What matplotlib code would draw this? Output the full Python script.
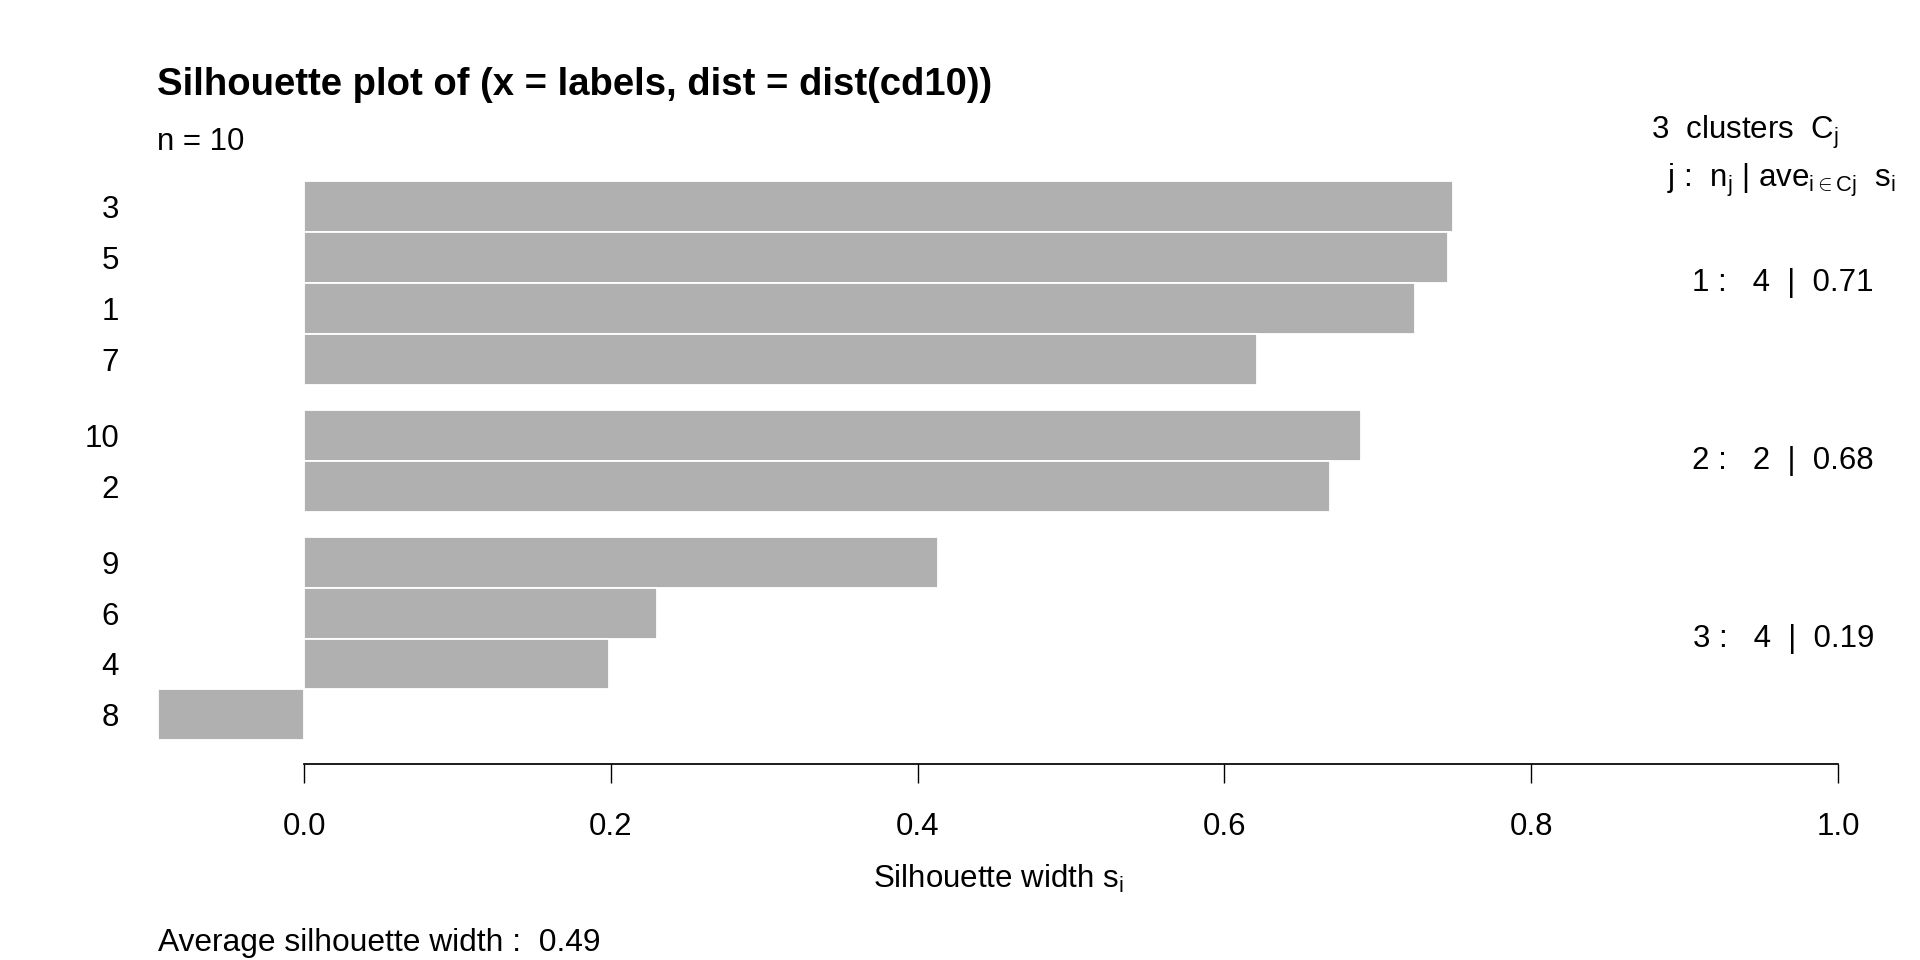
import matplotlib
matplotlib.use("Agg")
import matplotlib.pyplot as plt
from matplotlib.transforms import blended_transform_factory

plt.rcParams['font.family'] = ['Liberation Sans', 'DejaVu Sans']
plt.rcParams['mathtext.fontset'] = 'custom'
plt.rcParams['mathtext.rm'] = 'Liberation Sans'
plt.rcParams['mathtext.it'] = 'Liberation Sans:italic'
plt.rcParams['mathtext.bf'] = 'Liberation Sans:bold'

# ---- data ----
labels = ['3', '5', '1', '7', '10', '2', '9', '6', '4', '8']
clusters = [1, 1, 1, 1, 2, 2, 3, 3, 3, 3]
widths = [0.749, 0.746, 0.724, 0.621, 0.689, 0.669, 0.413, 0.230, 0.199, -0.095]
xticks = [0.0, 0.2, 0.4, 0.6, 0.8, 1.0]
xtick_labels = ['0.0', '0.2', '0.4', '0.6', '0.8', '1.0']

W, H = 1920, 960
fig = plt.figure(figsize=(W / 100, H / 100), dpi=100)

# pixel layout
X0_PX, X1_PX = 304.0, 1838.0
ppu = X1_PX - X0_PX
AX_LEFT_PX = 130.0
XMAX = 1.02
xmin = (AX_LEFT_PX - X0_PX) / ppu
ax_right_px = X0_PX + XMAX * ppu
AX_BOTTOM_PX = 763.5
AX_TOP_PX = 158.0
ax = fig.add_axes([AX_LEFT_PX / W, 1 - AX_BOTTOM_PX / H,
                   (ax_right_px - AX_LEFT_PX) / W, (AX_BOTTOM_PX - AX_TOP_PX) / H])

# bar positions (bottom to top), gap 0.5 between clusters
centers = [0.0] * len(labels)
pos = 0.0
prev = None
for i in reversed(range(len(labels))):
    if prev is not None and clusters[i] != prev:
        pos += 0.5
    centers[i] = pos + 0.5
    pos += 1.0
    prev = clusters[i]
total = pos

ax.barh(centers, widths, height=1.0, color='#B0B0B0', edgecolor='white', linewidth=1.3)
ax.set_xlim(xmin, XMAX)
pad_y = 0.46
ax.set_ylim(-pad_y, total + pad_y)

for s in ['top', 'right', 'left']:
    ax.spines[s].set_visible(False)
ax.spines['bottom'].set_bounds(0, 1)
ax.spines['bottom'].set_linewidth(1.25)
ax.set_xticks(xticks, xtick_labels)
ax.tick_params(axis='x', length=13.7, width=1.0, pad=21.5, labelsize=22.5)
ax.set_yticks(centers, labels)
ax.tick_params(axis='y', length=0, pad=8, labelsize=22.5)

# titles / annotations
def ft(xpx, ypx, s, **kw):
    fig.text(xpx / W, 1 - ypx / H, s, **kw)

ft(157, 85, 'Silhouette plot of (x = labels, dist = dist(cd10))',
   fontsize=27.5, fontweight='bold', ha='left', va='center')
ft(157, 142, 'n = 10', fontsize=22.5, ha='left', va='center')
ft(1839, 132, r'3  clusters  C$_\mathrm{j}$', fontsize=22.5, ha='right', va='center')
ft(1896, 180, r'j :  n$_\mathrm{j}$ | ave$_{\mathrm{i\in Cj}}$  s$_\mathrm{i}$',
   fontsize=22.5, ha='right', va='center')

tr = blended_transform_factory(fig.transFigure, ax.transData)
uniq = []
for c in clusters:
    if c not in uniq:
        uniq.append(c)
for c in uniq:
    idx = [i for i, cc in enumerate(clusters) if cc == c]
    yc = sum(centers[i] for i in idx) / len(idx)
    avg = sum(widths[i] for i in idx) / len(idx)
    fig.text(1874 / W, yc, f'{c} :   {len(idx)}  |  {avg:.2f}', transform=tr,
             fontsize=22.5, ha='right', va='center')

ft(998, 879, r'Silhouette width s$_\mathrm{i}$', fontsize=22.5, ha='center', va='center')
overall = sum(widths) / len(widths)
ft(158, 943, f'Average silhouette width :  {overall:.2f}', fontsize=22.9, ha='left', va='center')

fig.savefig('out.png', dpi=100)
